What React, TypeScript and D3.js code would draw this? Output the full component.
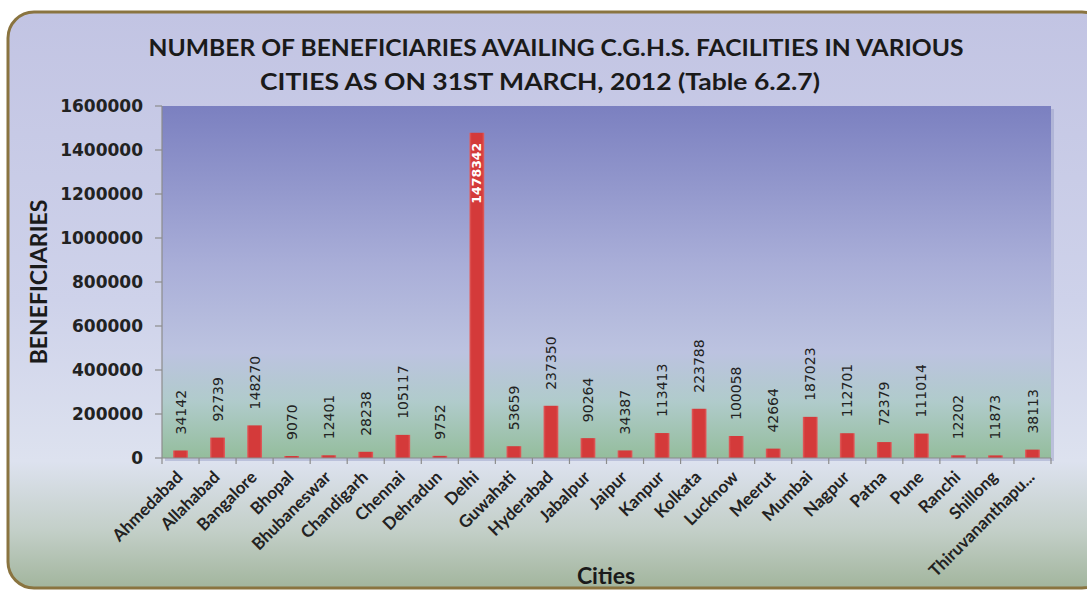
import React from "react";
import * as d3 from "d3";

const cities = ["Ahmedabad","Allahabad","Bangalore","Bhopal","Bhubaneswar","Chandigarh","Chennai","Dehradun","Delhi","Guwahati","Hyderabad","Jabalpur","Jaipur","Kanpur","Kolkata","Lucknow","Meerut","Mumbai","Nagpur","Patna","Pune","Ranchi","Shillong","Thiruvananthapu..."];
const beneficiaries = [34142,92739,148270,9070,12401,28238,105117,9752,1478342,53659,237350,90264,34387,113413,223788,100058,42664,187023,112701,72379,111014,12202,11873,38113];
const yTicks = [0,200000,400000,600000,800000,1000000,1200000,1400000,1600000];
const titleLines = ["NUMBER OF BENEFICIARIES AVAILING C.G.H.S. FACILITIES IN VARIOUS","CITIES AS ON 31ST MARCH, 2012 (Table 6.2.7)"];

const W = 1087, H = 590;
const M = { left: 162, right: 1051, top: 106, bottom: 458 };

export default function App() {
  const x = d3.scaleBand<string>().domain(cities).range([M.left, M.right]).paddingInner(0.6).paddingOuter(0.3);
  const y = d3.scaleLinear().domain([0, 1600000]).range([M.bottom, M.top]);
  const bounds = d3.range(cities.length + 1).map(i => M.left + (M.right - M.left) * i / cities.length);
  const xc = (c: string) => M.left + (M.right - M.left) * (cities.indexOf(c) + 0.5) / cities.length;
  const bw = x.bandwidth();
  return (
    <svg width={W} height={H} style={{ position: "absolute", left: 0, top: 0, background: "#fff" }}>
      <defs>
        <linearGradient id="bg" x1="0" y1="0" x2="0" y2="1">
          <stop offset="0" stopColor="#c2c4e3" />
          <stop offset="0.5" stopColor="#ced2ea" />
          <stop offset="0.78" stopColor="#dde2ef" />
          <stop offset="0.9" stopColor="#c3cfc8" />
          <stop offset="1" stopColor="#a2b59d" />
        </linearGradient>
        <linearGradient id="plot" x1="0" y1="0" x2="0" y2="1">
          <stop offset="0" stopColor="#7b80c0" />
          <stop offset="0.45" stopColor="#a9aed8" />
          <stop offset="0.7" stopColor="#bcc3e0" />
          <stop offset="0.84" stopColor="#b0cbcb" />
          <stop offset="1" stopColor="#94bd9c" />
        </linearGradient>
        <linearGradient id="bar" x1="0" y1="0" x2="1" y2="0">
          <stop offset="0" stopColor="#e06060" />
          <stop offset="0.15" stopColor="#d43a3a" />
          <stop offset="0.85" stopColor="#d43a3a" />
          <stop offset="1" stopColor="#e06060" />
        </linearGradient>
      </defs>
      <rect x={8} y={12} width={1100} height={576} rx={26} ry={26} fill="url(#bg)" stroke="#8a7440" strokeWidth={3} />
      <rect x={M.left + 3} y={M.top + 3} width={M.right - M.left} height={M.bottom - M.top} fill="#9aa0c8" opacity={0.5} />
      <rect x={M.left} y={M.top} width={M.right - M.left} height={M.bottom - M.top} fill="url(#plot)" />
      {titleLines.map((t, i) => (
        <text key={i} x={i === 0 ? 556 : 540} y={56 + i * 34} textAnchor="middle" fontFamily="Lato, 'Open Sans', sans-serif" fontWeight="bold" fontSize={22} fill="#1a1a1a"
          textLength={i === 0 ? 815 : 560} lengthAdjust="spacingAndGlyphs">{t}</text>
      ))}
      {/* y axis */}
      <line x1={M.left} x2={M.left} y1={M.top} y2={M.bottom} stroke="#8c8c8c" strokeWidth={1.2} />
      {yTicks.map(t => (
        <g key={t}>
          <line x1={M.left - 7} x2={M.left} y1={y(t)} y2={y(t)} stroke="#8c8c8c" strokeWidth={1.2} />
          <text x={M.left - 19} y={y(t)} dy="0.36em" textAnchor="end" fontFamily="'DejaVu Sans', sans-serif" fontWeight="bold" fontSize={17} fill="#222">{t}</text>
        </g>
      ))}
      {/* bars */}
      {cities.map((c, i) => {
        const v = beneficiaries[i];
        const cx = xc(c);
        return <rect key={c} x={cx - bw / 2} y={y(v)} width={bw} height={M.bottom - y(v)} fill="url(#bar)" />;
      })}
      {/* x axis */}
      <line x1={M.left} x2={M.right} y1={M.bottom} y2={M.bottom} stroke="#8c8c8c" strokeWidth={1.2} />
      {bounds.map((b, i) => (
        <line key={i} x1={b} x2={b} y1={M.bottom} y2={M.bottom + 6} stroke="#8c8c8c" strokeWidth={1.2} />
      ))}
      {/* value labels */}
      {cities.map((c, i) => {
        const v = beneficiaries[i];
        const cx = xc(c);
        const inside = v > 1000000;
        const ly = inside ? y(v) + 10 : y(v) - 16;
        return (
          <text key={c} transform={`translate(${cx},${ly}) rotate(-90)`} dy="0.36em" textAnchor={inside ? "end" : "start"}
            fontFamily="'DejaVu Sans', sans-serif" fontWeight={inside ? "bold" : "normal"} fontSize={inside ? 12.5 : 14} fill={inside ? "#fff" : "#222"}>{v}</text>
        );
      })}
      {/* category labels */}
      {cities.map(c => (
        <text key={c} transform={`translate(${xc(c) - 1},${M.bottom + 16}) rotate(-45)`} textAnchor="end" dy="0.35em"
          fontFamily="Lato, 'Open Sans', sans-serif" fontWeight="bold" fontSize={17} fill="#222">{c}</text>
      ))}
      <text transform={`translate(47,282) rotate(-90)`} textAnchor="middle" fontFamily="Lato, 'Open Sans', sans-serif" fontWeight="bold" fontSize={23} fill="#1a1a1a">BENEFICIARIES</text>
      <text x={606} y={584} textAnchor="middle" fontFamily="Lato, 'Open Sans', sans-serif" fontWeight="bold" fontSize={23} fill="#1a1a1a">Cities</text>
    </svg>
  );
}
